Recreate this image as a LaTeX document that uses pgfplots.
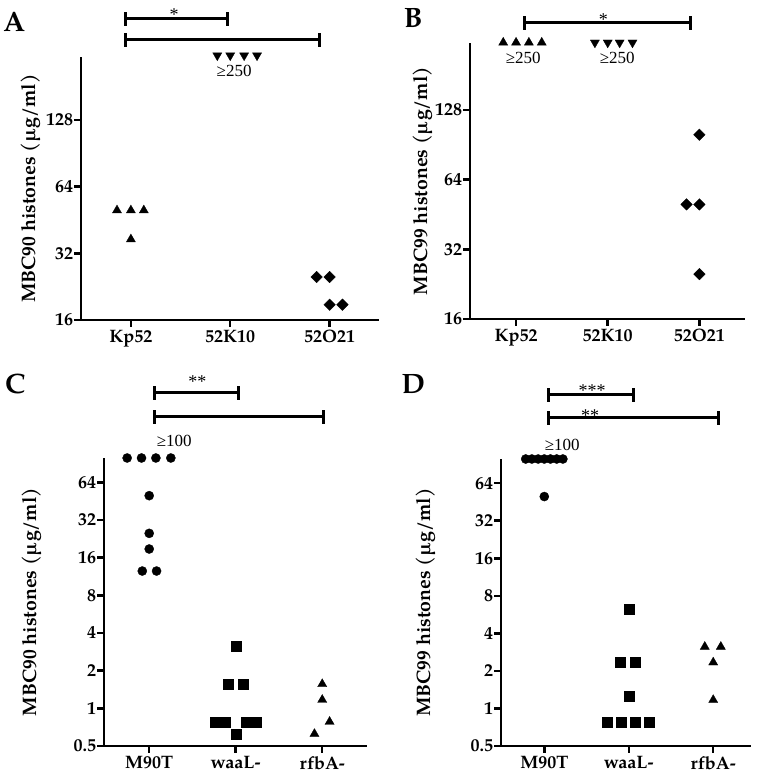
\documentclass[border=0pt]{standalone}
\usepackage{fontspec}
\setmainfont{TeX Gyre Pagella}
\newfontfamily\timesf{Liberation Serif}
\usepackage{pgfplots}
\pgfplotsset{compat=1.18}
\usetikzlibrary{calc}

\newcommand{\fs}[1]{\fontsize{#1}{#1}\selectfont}
% significance bar (filled rectangles), x1 x2 y in rel axis cs
\newcommand{\sigbar}[3]{%
  \fill[black] ($(rel axis cs:#1,#3)+(-1.5pt,-1.5pt)$) rectangle ($(rel axis cs:#2,#3)+(1.5pt,1.5pt)$);
  \fill[black] ($(rel axis cs:#1,#3)+(-1.5pt,-7pt)$) rectangle ($(rel axis cs:#1,#3)+(1.5pt,7pt)$);
  \fill[black] ($(rel axis cs:#2,#3)+(-1.5pt,-7pt)$) rectangle ($(rel axis cs:#2,#3)+(1.5pt,7pt)$);
}
\newcommand{\stars}[3]{%
  \node[font=\timesf\fs{18}, anchor=base, yshift=-10pt, inner sep=0pt] at (rel axis cs:#1,#2) {#3};
}
\newcommand{\geqlab}[3]{%
  \node[font=\timesf\fs{17}, anchor=center, inner sep=0pt] at (rel axis cs:#1,#2) {#3};
}
% frame of a named axis (left and bottom), as filled strips
\newcommand{\frameof}[1]{%
  \fill[black] ($(#1.south west)+(-1.25pt,-1.25pt)$) rectangle ($(#1.north west)+(1.25pt,0pt)$);
  \fill[black] ($(#1.south west)+(-1.25pt,-1.25pt)$) rectangle ($(#1.south east)+(0pt,1.25pt)$);}
% x tick at fraction #2 along the bottom edge of axis #1
\newcommand{\xtickof}[2]{%
  \fill[black] ($(#1.south west)!#2!(#1.south east)+(-1.25pt,0pt)$) rectangle ++(2.5pt,-7pt);}
% y tick at fraction #2 along the left edge of axis #1
\newcommand{\ytickof}[2]{%
  \fill[black] ($(#1.south west)!#2!(#1.north west)+(0pt,-1.25pt)$) rectangle ++(-7pt,2.5pt);}

\pgfplotsset{
  tri/.style={only marks, black, mark=triangle*, mark size=5.3pt, mark options={fill=black, line width=0.3pt}},
  itri/.style={only marks, black, mark=triangle*, mark size=5.3pt, mark options={fill=black, line width=0.3pt, rotate=180}},
  dia/.style={only marks, black, mark=square*, mark size=4.1pt, mark options={fill=black, line width=0.3pt, rotate=45}},
  circ/.style={only marks, black, mark=*, mark size=4.6pt, mark options={fill=black, line width=0.3pt}},
  sq/.style={only marks, black, mark=square*, mark size=5.0pt, mark options={fill=black, line width=0.3pt}},
}

\begin{document}
\begin{tikzpicture}
\path (0pt,0pt) rectangle (760pt,778pt);

% ---------------- Panel A ----------------
\begin{axis}[name=axA, at={(80pt,458pt)}, anchor=south west, scale only axis, clip=false,
  width=298pt, height=263pt,
  axis x line=bottom, axis y line=left,
  axis line style={line width=2.5pt, -, black},
  tick align=outside, major tick length=7pt,
  tick style={line width=2.5pt, black},
  xticklabel style={font=\bfseries\fs{18}, inner sep=3pt},
  yticklabel style={font=\bfseries\fs{18}, inner sep=1pt},
  ymode=log, log basis y=2, yminorticks=false,
  xmin=-0.5, xmax=2.5, ymin=16, ymax=246,
  xtick={0,1,2}, xticklabels={Kp52,52K10,52O21},
  ytick={16,32,64,128}, yticklabels={16,32,64,128},
  ylabel={MBC90 histones (µg/ml)},
  ylabel style={font=\bfseries\fs{19.5}, at={(axis description cs:-0.168,0.5)}, anchor=center}]
\addplot[tri] coordinates {(-0.14,50) (0,50) (0.13,50) (0,37)};
\addplot[itri] coordinates {(0.87,250) (1,250) (1.14,250) (1.27,250)};
\addplot[dia] coordinates {(1.87,25) (2,25) (2,18.75) (2.13,18.75)};
\sigbar{0.1477}{0.4899}{1.1445}
\sigbar{0.1477}{0.7987}{1.0646}
\stars{0.312}{1.175}{*}
\geqlab{0.513}{0.947}{≥250}
\end{axis}

% ---------------- Panel B ----------------
\begin{axis}[name=axB, at={(469pt,459pt)}, anchor=south west, scale only axis, clip=false,
  width=275pt, height=276pt,
  axis x line=bottom, axis y line=left,
  axis line style={line width=2.5pt, -, black},
  tick align=outside, major tick length=7pt,
  tick style={line width=2.5pt, black},
  xticklabel style={font=\bfseries\fs{18}, inner sep=3pt},
  yticklabel style={font=\bfseries\fs{18}, inner sep=1pt},
  ymode=log, log basis y=2, yminorticks=false,
  xmin=-0.5, xmax=2.5, ymin=16, ymax=249,
  xtick={0,1,2}, xticklabels={Kp52,52K10,52O21},
  ytick={16,32,64,128}, yticklabels={16,32,64,128},
  ylabel={MBC99 histones (µg/ml)},
  ylabel style={font=\bfseries\fs{19.5}, at={(axis description cs:-0.171,0.5)}, anchor=center}]
\addplot[tri] coordinates {(-0.14,250) (0,250) (0.14,250) (0.28,250)};
\addplot[itri] coordinates {(0.86,250) (1,250) (1.13,250) (1.27,250)};
\addplot[dia] coordinates {(2,100) (1.86,50) (2,50) (2,25)};
\sigbar{0.196}{0.8}{1.0725}
\stars{0.484}{1.101}{*}
\geqlab{0.193}{0.9457}{≥250}
\geqlab{0.5345}{0.9457}{≥250}
\end{axis}

% ---------------- Panel C ----------------
\begin{axis}[name=axC, at={(103pt,32pt)}, anchor=south west, scale only axis, clip=false,
  width=263pt, height=288pt,
  axis x line=bottom, axis y line=left,
  axis line style={line width=2.5pt, -, black},
  tick align=outside, major tick length=7pt,
  tick style={line width=2.5pt, black},
  xticklabel style={font=\bfseries\fs{18}, inner sep=3pt},
  yticklabel style={font=\bfseries\fs{18}, inner sep=1pt},
  ymode=log, log basis y=2, yminorticks=false,
  xmin=-0.52, xmax=2.52, ymin=0.5, ymax=100,
  xtick={0,1,2}, xticklabels={M90T,waaL-,rfbA-},
  ytick={0.5,1,2,4,8,16,32,64}, yticklabels={0.5,1,2,4,8,16,32,64},
  ylabel={MBC90 histones (µg/ml)},
  ylabel style={font=\bfseries\fs{19.5}, at={(axis description cs:-0.274,0.5)}, anchor=center}]
\addplot[circ] coordinates {(-0.255,100) (-0.089,100) (0.077,100) (0.25,100)
  (0,50) (0,25) (0,18.75) (-0.08,12.5) (0.085,12.5)};
\addplot[sq] coordinates {(1,3.125) (0.912,1.5625) (1.085,1.5625)
  (0.76,0.78125) (0.88,0.78125) (1.12,0.78125) (1.24,0.78125) (1,0.625)};
\addplot[tri] coordinates {(2,1.5625) (2,1.17) (2.085,0.78125) (1.91,0.625)};
\sigbar{0.190}{0.5095}{1.2257}
\sigbar{0.190}{0.8327}{1.1424}
\stars{0.354}{1.281}{**}
\geqlab{0.266}{1.059}{≥100}
\end{axis}

% ---------------- Panel D ----------------
\begin{axis}[name=axD, at={(500pt,32pt)}, anchor=south west, scale only axis, clip=false,
  width=250pt, height=287pt,
  axis x line=bottom, axis y line=left,
  axis line style={line width=2.5pt, -, black},
  tick align=outside, major tick length=7pt,
  tick style={line width=2.5pt, black},
  xticklabel style={font=\bfseries\fs{18}, inner sep=3pt},
  yticklabel style={font=\bfseries\fs{18}, inner sep=1pt},
  ymode=log, log basis y=2, yminorticks=false,
  xmin=-0.51, xmax=2.45, ymin=0.5, ymax=100,
  xtick={0,1,2}, xticklabels={M90T,waaL-,rfbA-},
  ytick={0.5,1,2,4,8,16,32,64}, yticklabels={0.5,1,2,4,8,16,32,64},
  ylabel={MBC99 histones (µg/ml)},
  ylabel style={font=\bfseries\fs{19.5}, at={(axis description cs:-0.30,0.5)}, anchor=center}]
\addplot[circ] coordinates {(-0.22,100) (-0.147,100) (-0.073,100) (0,100)
  (0.073,100) (0.147,100) (0.22,100) (0,50)};
\addplot[sq] coordinates {(1,6.25) (0.9,2.34) (1.08,2.34) (1,1.25)
  (0.743,0.78125) (0.909,0.78125) (1.075,0.78125) (1.24,0.78125)};
\addplot[tri] coordinates {(1.9,3.125) (2.09,3.125) (2,2.34) (2,1.17)};
\sigbar{0.188}{0.528}{1.223}
\sigbar{0.188}{0.868}{1.143}
\stars{0.364}{1.254}{***}
\stars{0.356}{1.164}{**}
\geqlab{0.244}{1.049}{≥100}
\end{axis}

% axis frames and ticks as filled strips, on top
\frameof{axA}\frameof{axB}\frameof{axC}\frameof{axD}
\xtickof{axA}{0.16667}\xtickof{axA}{0.5}\xtickof{axA}{0.83333}
\ytickof{axA}{0}\ytickof{axA}{0.25361}\ytickof{axA}{0.50722}\ytickof{axA}{0.76083}
\xtickof{axB}{0.16667}\xtickof{axB}{0.5}\xtickof{axB}{0.83333}
\ytickof{axB}{0}\ytickof{axB}{0.25224}\ytickof{axB}{0.50448}\ytickof{axB}{0.75672}
\xtickof{axC}{0.17105}\xtickof{axC}{0.5}\xtickof{axC}{0.82895}
\xtickof{axD}{0.17230}\xtickof{axD}{0.51014}\xtickof{axD}{0.84797}
\ytickof{axC}{0}\ytickof{axC}{0.13082}\ytickof{axC}{0.26165}\ytickof{axC}{0.39247}
\ytickof{axC}{0.52330}\ytickof{axC}{0.65412}\ytickof{axC}{0.78494}\ytickof{axC}{0.91577}
\ytickof{axD}{0}\ytickof{axD}{0.13082}\ytickof{axD}{0.26165}\ytickof{axD}{0.39247}
\ytickof{axD}{0.52330}\ytickof{axD}{0.65412}\ytickof{axD}{0.78494}\ytickof{axD}{0.91577}

% panel letters
\node[font=\bfseries\fs{28}] at (13pt,756pt) {A};
\node[font=\bfseries\fs{28}] at (412pt,760pt) {B};
\node[font=\bfseries\fs{28}] at (14pt,394pt) {C};
\node[font=\bfseries\fs{28}] at (412pt,394pt) {D};
\end{tikzpicture}
\end{document}
